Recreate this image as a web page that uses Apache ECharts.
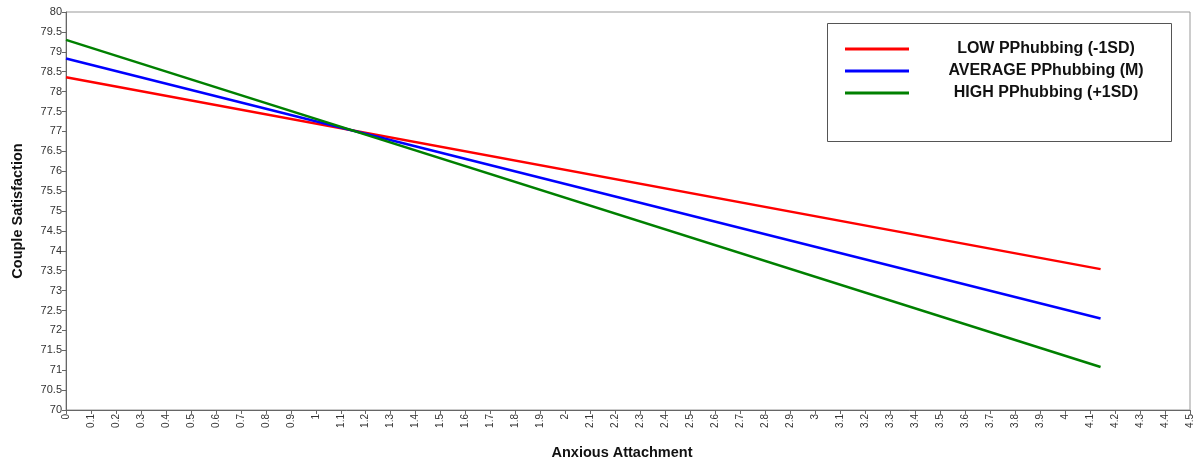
<!DOCTYPE html>
<html>
<head>
<meta charset="utf-8">
<script src="https://cdn.jsdelivr.net/npm/echarts@6/dist/echarts.min.js"></script>
<style>html,body{margin:0;padding:0;background:#fff}#c{width:1198px;height:463px}</style>
</head>
<body>
<div id="c"></div>
<script>
var xValues = [0, 4.142];
var seriesNames = ['LOW PPhubbing (-1SD)', 'AVERAGE PPhubbing (M)', 'HIGH PPhubbing (+1SD)'];
var lowValues = [78.36, 73.54];
var avgValues = [78.83, 72.30];
var highValues = [79.30, 71.08];
var seriesColors = ['#ff0000', '#0000ff', '#008000'];

var chart = echarts.init(document.getElementById('c'));
function mk(name, ys, color) {
  return {
    name: name, type: 'line', showSymbol: false, symbol: 'none', animation: false,
    data: xValues.map(function (x, i) { return [x, ys[i]]; }),
    lineStyle: { color: color, width: 2.5 }, itemStyle: { color: color }
  };
}
chart.setOption({
  animation: false,
  grid: { left: 66, right: 8, top: 12, bottom: 53, show: true, borderColor: '#999', borderWidth: 1, containLabel: false, outerBoundsMode: 'none' },
  graphic: [{
    type: 'rect', shape: { x: 827.5, y: 23.5, width: 344, height: 118 },
    style: { fill: '#fff', stroke: '#555', lineWidth: 1 }, z: 5
  }],
  legend: {
    orient: 'vertical', left: 840, top: 36, itemWidth: 64, itemHeight: 3, itemGap: 6,
    icon: 'rect', z: 10,
    data: seriesNames,
    formatter: function (n) { return '{a|' + n + '}'; },
    textStyle: { color: '#111',
      rich: { a: { fontFamily: 'Arial, Liberation Sans', fontWeight: 'bold', fontSize: 16, color: '#111', width: 264, align: 'center', lineHeight: 18 } } }
  },
  xAxis: {
    type: 'value', min: 0, max: 4.5, interval: 0.1,
    name: 'Anxious Attachment', nameLocation: 'middle', nameGap: 35,
    nameTextStyle: { fontFamily: 'Arial, Liberation Sans', fontWeight: 'bold', fontSize: 14.5, color: '#111', padding: [0, 12, 0, 0] },
    axisLine: { lineStyle: { color: '#666' } },
    axisTick: { length: 4, lineStyle: { color: '#666' } },
    splitLine: { show: false },
    axisLabel: { rotate: 90, fontSize: 10, color: '#333', fontFamily: 'Arial, Liberation Sans', margin: 4,
      formatter: function (v) { return String(Math.round(v * 10) / 10); } }
  },
  yAxis: {
    type: 'value', min: 70, max: 80, interval: 0.5,
    name: 'Couple Satisfaction', nameLocation: 'middle', nameGap: 41,
    nameTextStyle: { fontFamily: 'Arial, Liberation Sans', fontWeight: 'bold', fontSize: 14.5, color: '#111' },
    axisLine: { show: true, lineStyle: { color: '#666' } },
    axisTick: { show: true, length: 4, lineStyle: { color: '#666' } },
    splitLine: { show: false },
    axisLabel: { fontSize: 11, color: '#333', fontFamily: 'Arial, Liberation Sans', margin: 4,
      formatter: function (v) { return String(Math.round(v * 10) / 10); } }
  },
  series: [mk(seriesNames[0], lowValues, seriesColors[0]), mk(seriesNames[1], avgValues, seriesColors[1]), mk(seriesNames[2], highValues, seriesColors[2])]
});
</script>
</body>
</html>
